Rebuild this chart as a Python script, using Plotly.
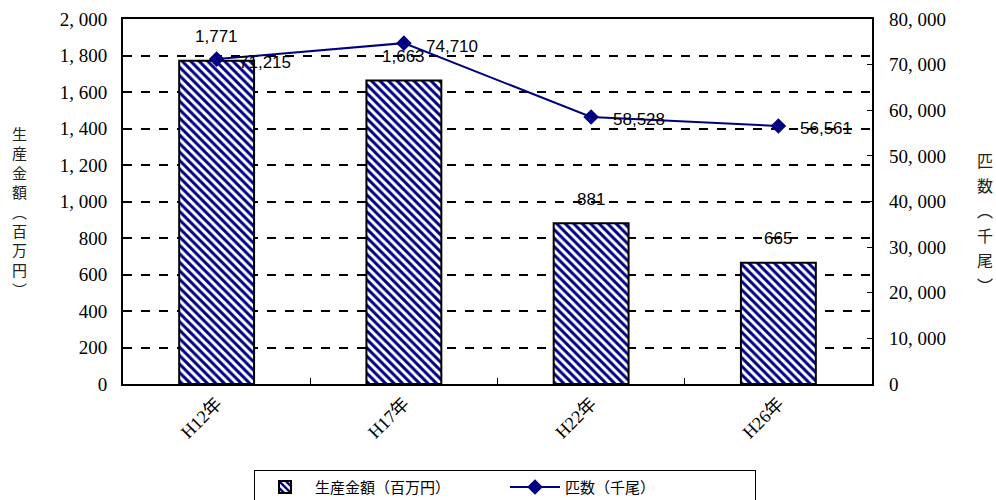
import plotly.graph_objects as go

categories = ["H12年", "H17年", "H22年", "H26年"]
production_value = [1771, 1663, 881, 665]      # 生産金額（百万円）
fish_count = [71215, 74710, 58528, 56561]       # 匹数（千尾）
left_ticks = [0, 200, 400, 600, 800, 1000, 1200, 1400, 1600, 1800, 2000]
left_ticktext = ["0", "200", "400", "600", "800", "1, 000", "1, 200", "1, 400", "1, 600", "1, 800", "2, 000"]
right_ticks = [0, 10000, 20000, 30000, 40000, 50000, 60000, 70000, 80000]
right_ticktext = ["0", "10, 000", "20, 000", "30, 000", "40, 000", "50, 000", "60, 000", "70, 000", "80, 000"]
left_title = ["生", "産", "金", "額", "︵", "百", "万", "円", "︶"]
right_title = ["匹", "数", "︵", "千", "尾", "︶"]

serif = "Liberation Serif, Noto Sans CJK JP, serif"
sans = "Liberation Sans, Arial, sans-serif"
cjk = "Noto Sans CJK JP"
navy = "#000080"

fig = go.Figure()
fig.add_trace(go.Bar(
    x=categories, y=production_value, name="生産金額（百万円）",
    width=0.4,
    marker=dict(color="white", line=dict(color="black", width=2),
                pattern=dict(shape="\\", fgcolor=navy, bgcolor="white", size=6, solidity=0.5, fillmode="replace")),
))
fig.add_trace(go.Scatter(
    x=categories, y=fish_count, name="匹数（千尾）", yaxis="y2",
    mode="lines+markers",
    line=dict(color=navy, width=2),
    marker=dict(symbol="diamond", size=12, color=navy),
    cliponaxis=False,
))

for c, v in zip(categories, production_value):
    fig.add_annotation(x=c, y=v, xref="x", yref="y", text=f"{v:,}", showarrow=False,
                       yshift=24, font=dict(family=sans, size=17, color="black"))
for c, v in zip(categories, fish_count):
    fig.add_annotation(x=c, y=v, xref="x", yref="y2", text=f"{v:,}", showarrow=False,
                       xanchor="left", xshift=20, yshift=-3, font=dict(family=sans, size=17, color="black"))

# vertical axis titles, one character per line (pixel positions from top)
for i, ch in enumerate(left_title):
    ypix = 133 + i * 19.5
    fig.add_annotation(text=ch, xref="paper", yref="paper", x=(20 - 123) / 749, y=(384 - ypix) / 365,
                       xanchor="center", yanchor="middle", showarrow=False,
                       font=dict(family=cjk, size=15, color="#222"))
for i, ch in enumerate(right_title):
    ypix = 160 + i * 25
    fig.add_annotation(text=ch, xref="paper", yref="paper", x=(985 - 123) / 749, y=(384 - ypix) / 365,
                       xanchor="center", yanchor="middle", showarrow=False,
                       font=dict(family=cjk, size=16, color="#222"))

fig.update_layout(
    width=996, height=500,
    margin=dict(l=123, r=124, t=19, b=116, autoexpand=False),
    paper_bgcolor="white", plot_bgcolor="white",
    xaxis=dict(
        type="category", tickangle=-45, showline=True, linecolor="black", linewidth=2, mirror=True,
        ticks="inside", tickson="boundaries", ticklen=6, tickcolor="black",
        tickfont=dict(family=serif, size=18, color="black"), showgrid=False, automargin=False,
    ),
    yaxis=dict(
        range=[0, 2000], tickvals=left_ticks, ticktext=left_ticktext,
        showline=True, linecolor="black", linewidth=2, mirror=True,
        showgrid=True, gridcolor="black", gridwidth=2, griddash="dash",
        ticks="", tickfont=dict(family=serif, size=19, color="black"), zeroline=False, automargin=False,
        ticklabelstandoff=10,
    ),
    yaxis2=dict(
        range=[0, 80000], tickvals=right_ticks, ticktext=right_ticktext,
        overlaying="y", side="right", showgrid=False, zeroline=False,
        ticks="inside", ticklen=5, tickcolor="black", showline=False,
        tickfont=dict(family=serif, size=19, color="black"), automargin=False,
        ticklabelstandoff=16,
    ),
    legend=dict(
        orientation="h", x=0.51, xanchor="center", y=-0.235, yanchor="top",
        bordercolor="black", borderwidth=1, bgcolor="white",
        font=dict(family=cjk, size=15, color="black"),
        entrywidth=185, itemwidth=50, tracegroupgap=0,
    ),
    showlegend=True,
)

fig.write_html("out.html")
